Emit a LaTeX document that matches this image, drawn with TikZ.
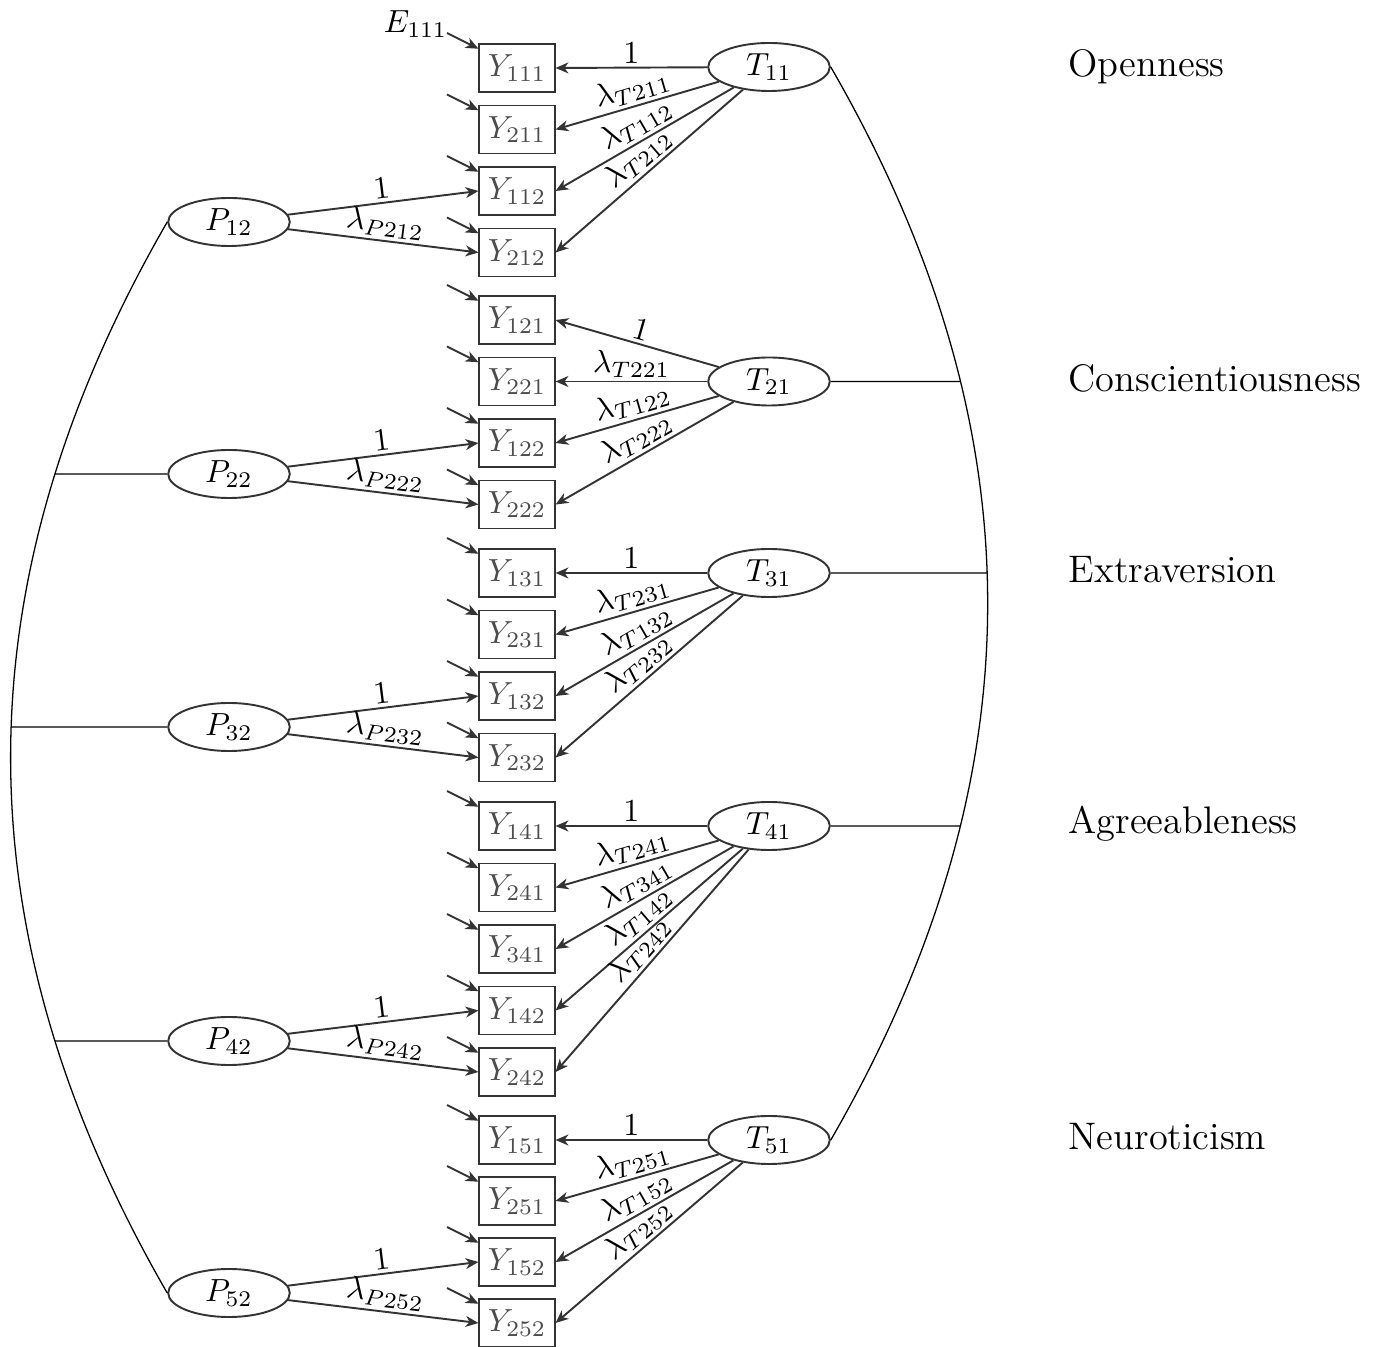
\documentclass[tikz,border=0pt]{standalone}
\usepackage{amssymb}
\usepackage{tikz}
\usetikzlibrary{arrows.meta, calc, positioning, shapes.geometric, intersections}

\tikzset{
  obs/.style={draw=black!80, semithick, rectangle, minimum width=23.5pt, minimum height=15pt, inner sep=2pt, text=black!70},
  lat/.style={draw=black!80, semithick, ellipse, minimum width=38pt, minimum height=15pt, inner sep=0pt},
  load/.style={draw=black!80, semithick, -{Stealth[length=4pt,width=3.4pt,inset=1.2pt]}},
  err/.style={load},
  lab/.style={midway, sloped, above, inner sep=1pt, text=black},
  link/.style={black, thin},
  dom/.style={anchor=base west, inner sep=0pt, font=\large}
}

\begin{document}
\begin{tikzpicture}[x=0.3125pt, y=-0.3125pt]
\useasboundingbox (0,0) rectangle (1373,1347);

% indicators
\node[obs] (Y111) at (517,68) {$Y_{111}$};
\node[obs] (Y211) at (517,129.5) {$Y_{211}$};
\node[obs] (Y112) at (517,191) {$Y_{112}$};
\node[obs] (Y212) at (517,252.5) {$Y_{212}$};
\node[obs] (Y121) at (517,320) {$Y_{121}$};
\node[obs] (Y221) at (517,381.5) {$Y_{221}$};
\node[obs] (Y122) at (517,443) {$Y_{122}$};
\node[obs] (Y222) at (517,504.5) {$Y_{222}$};
\node[obs] (Y131) at (517,573) {$Y_{131}$};
\node[obs] (Y231) at (517,634.5) {$Y_{231}$};
\node[obs] (Y132) at (517,696) {$Y_{132}$};
\node[obs] (Y232) at (517,757.5) {$Y_{232}$};
\node[obs] (Y141) at (517,826) {$Y_{141}$};
\node[obs] (Y241) at (517,887.5) {$Y_{241}$};
\node[obs] (Y341) at (517,949) {$Y_{341}$};
\node[obs] (Y142) at (517,1010.5) {$Y_{142}$};
\node[obs] (Y242) at (517,1072) {$Y_{242}$};
\node[obs] (Y151) at (517,1140) {$Y_{151}$};
\node[obs] (Y251) at (517,1201) {$Y_{251}$};
\node[obs] (Y152) at (517,1262) {$Y_{152}$};
\node[obs] (Y252) at (517,1323) {$Y_{252}$};

% traits
\node[lat] (T11) at (769,67) {$T_{11}$};
\node[lat] (T21) at (769,381.5) {$T_{21}$};
\node[lat] (T31) at (769,573) {$T_{31}$};
\node[lat] (T41) at (769,826) {$T_{41}$};
\node[lat] (T51) at (769,1140) {$T_{51}$};

% method factors
\node[lat] (P12) at (229,222) {$P_{12}$};
\node[lat] (P22) at (229,474) {$P_{22}$};
\node[lat] (P32) at (229,727) {$P_{32}$};
\node[lat] (P42) at (229,1041) {$P_{42}$};
\node[lat] (P52) at (229,1293) {$P_{52}$};

% domains
\node[dom] (open) at (1068,77) {Openness};
\node[dom] (consc) at (1068,392) {Conscientiousness};
\node[dom] (extra) at (1068,583) {Extraversion};
\node[dom] (agree) at (1068,834) {Agreeableness};
\node[dom] (neuro) at (1068,1150) {Neuroticism};

% errors
\foreach \y in {111,211,112,212,121,221,122,222,131,231,132,232,141,241,341,142,242,151,251,152,252}{
  \coordinate (e\y) at ($(Y\y)+(-70,-35)$);
  \draw[err] (e\y) -- (Y\y);
}
\node[anchor=base east, inner sep=0pt] (E111) at ($(e111)+(1,0)$) {$E_{111}$};

% trait loadings
\draw[load] (T11) -- node[lab] {$1$} (Y111.east);
\draw[load] (T11) -- node[lab] {$\lambda_{T211}$} (Y211.east);
\draw[load] (T11) -- node[lab] {$\lambda_{T112}$} (Y112.east);
\draw[load] (T11) -- node[lab] {$\lambda_{T212}$} (Y212.east);
\draw[load] (T21) -- node[lab] {$1$} (Y121.east);
\draw[load] (T21) -- node[lab] {$\lambda_{T221}$} (Y221.east);
\draw[load] (T21) -- node[lab] {$\lambda_{T122}$} (Y122.east);
\draw[load] (T21) -- node[lab] {$\lambda_{T222}$} (Y222.east);
\draw[load] (T31) -- node[lab] {$1$} (Y131.east);
\draw[load] (T31) -- node[lab] {$\lambda_{T231}$} (Y231.east);
\draw[load] (T31) -- node[lab] {$\lambda_{T132}$} (Y132.east);
\draw[load] (T31) -- node[lab] {$\lambda_{T232}$} (Y232.east);
\draw[load] (T41) -- node[lab] {$1$} (Y141.east);
\draw[load] (T41) -- node[lab] {$\lambda_{T241}$} (Y241.east);
\draw[load] (T41) -- node[lab] {$\lambda_{T341}$} (Y341.east);
\draw[load] (T41) -- node[lab] {$\lambda_{T142}$} (Y142.east);
\draw[load] (T41) -- node[lab] {$\lambda_{T242}$} (Y242.east);
\draw[load] (T51) -- node[lab] {$1$} (Y151.east);
\draw[load] (T51) -- node[lab] {$\lambda_{T251}$} (Y251.east);
\draw[load] (T51) -- node[lab] {$\lambda_{T152}$} (Y152.east);
\draw[load] (T51) -- node[lab] {$\lambda_{T252}$} (Y252.east);

% method loadings
\draw[load] (P12) -- node[lab] {$1$} (Y112.west);
\draw[load] (P12) -- node[lab] {$\lambda_{P212}$} (Y212.west);
\draw[load] (P22) -- node[lab] {$1$} (Y122.west);
\draw[load] (P22) -- node[lab] {$\lambda_{P222}$} (Y222.west);
\draw[load] (P32) -- node[lab] {$1$} (Y132.west);
\draw[load] (P32) -- node[lab] {$\lambda_{P232}$} (Y232.west);
\draw[load] (P42) -- node[lab] {$1$} (Y142.west);
\draw[load] (P42) -- node[lab] {$\lambda_{P242}$} (Y242.west);
\draw[load] (P52) -- node[lab] {$1$} (Y152.west);
\draw[load] (P52) -- node[lab] {$\lambda_{P252}$} (Y252.west);

% correlations
\draw[link, name path=tarc] (T11.east) to[bend left=30] (T51.east);
\foreach \t in {21,31,41}{
  \path[name path=h\t] (T\t.east) -- ++(400,0);
  \path[name intersections={of=tarc and h\t, by={r\t}}];
  \draw[link] (T\t.east) -- (r\t);
}
\draw[link, name path=parc] (P12.west) to[bend right=30] (P52.west);
\foreach \p in {22,32,42}{
  \path[name path=g\p] (P\p.west) -- ++(-400,0);
  \path[name intersections={of=parc and g\p, by={l\p}}];
  \draw[link] (P\p.west) -- (l\p);
}
\end{tikzpicture}
\end{document}
